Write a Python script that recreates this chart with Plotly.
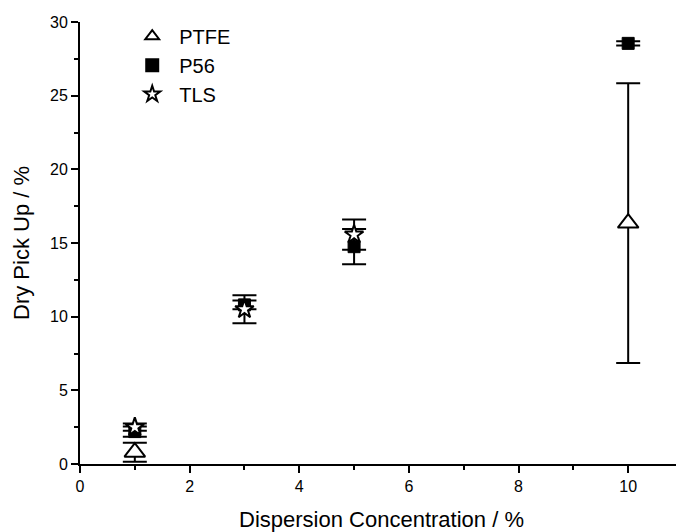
import plotly.graph_objects as go

# Data
ptfe_x = [1, 10]
ptfe_y = [0.8, 16.35]
ptfe_err = [0.65, 9.5]

p56_x = [1, 3, 5, 10]
p56_y = [2.2, 10.8, 14.75, 28.55]
p56_err = [0.35, 0.3, 1.2, 0.15]

tls_x = [1, 3, 5]
tls_y = [2.5, 10.5, 15.57]
tls_err = [0.25, 0.95, 1.03]

x_ticks = [0, 2, 4, 6, 8, 10]
y_ticks = [0, 5, 10, 15, 20, 25, 30]

FONT = "Liberation Sans, Arial, sans-serif"

fig = go.Figure()

err_style = dict(type="data", visible=True, color="black", thickness=2, width=12)

fig.add_trace(go.Scatter(
    x=ptfe_x, y=ptfe_y, mode="markers", name="PTFE",
    error_y=dict(array=ptfe_err, **err_style),
    marker=dict(symbol="triangle-up", size=18, color="white",
                line=dict(color="black", width=2)),
))
fig.add_trace(go.Scatter(
    x=p56_x, y=p56_y, mode="markers", name="P56",
    error_y=dict(array=p56_err, **err_style),
    marker=dict(symbol="square", size=12, color="black",
                line=dict(color="black", width=1)),
))
fig.add_trace(go.Scatter(
    x=tls_x, y=tls_y, mode="markers", name="TLS",
    error_y=dict(array=tls_err, **err_style),
    marker=dict(symbol="star", size=14, color="white",
                line=dict(color="black", width=2)),
))

fig.update_layout(
    width=676, height=524,
    margin=dict(l=72, r=1, t=14, b=68),
    paper_bgcolor="white", plot_bgcolor="white",
    font=dict(family=FONT, color="black", size=16),
    showlegend=True,
    legend=dict(x=0.075, y=1.012, xanchor="left", yanchor="top",
                font=dict(size=20, family=FONT), bgcolor="rgba(0,0,0,0)",
                itemsizing="constant", itemwidth=44),
    xaxis=dict(
        range=[0, 11], tickvals=x_ticks, ticktext=[str(v) for v in x_ticks],
        showgrid=False, zeroline=False, showline=True, linecolor="black",
        linewidth=2, ticks="outside", ticklen=7, tickwidth=2, tickcolor="black",
        tickfont=dict(size=16),
        minor=dict(dtick=1, tick0=0, ticks="outside", ticklen=4, tickwidth=2,
                   tickcolor="black", showgrid=False),
        title=dict(text="Dispersion Concentration / %", font=dict(size=22),
                   standoff=18),
    ),
    yaxis=dict(
        range=[0, 30], tickvals=y_ticks, ticktext=[str(v) for v in y_ticks],
        showgrid=False, zeroline=False, showline=True, linecolor="black",
        linewidth=2, ticks="outside", ticklen=7, tickwidth=2, tickcolor="black",
        tickfont=dict(size=16),
        minor=dict(dtick=2.5, tick0=0, ticks="outside", ticklen=4, tickwidth=2,
                   tickcolor="black", showgrid=False),
        title=dict(text="Dry Pick Up / %", font=dict(size=22), standoff=14),
    ),
)

fig.write_html("out.html")
